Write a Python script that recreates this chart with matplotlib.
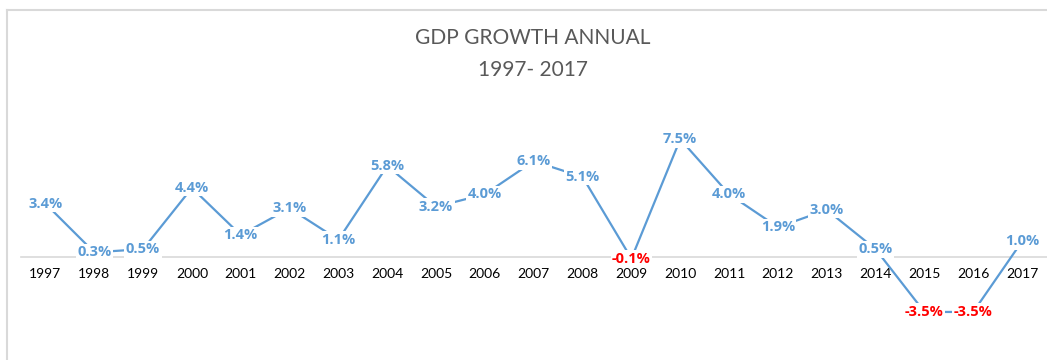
import matplotlib
matplotlib.use("Agg")
import matplotlib.pyplot as plt
from matplotlib.lines import Line2D

years = ["1997", "1998", "1999", "2000", "2001", "2002", "2003", "2004", "2005",
         "2006", "2007", "2008", "2009", "2010", "2011", "2012", "2013", "2014",
         "2015", "2016", "2017"]
growth = [3.4, 0.3, 0.5, 4.4, 1.4, 3.1, 1.1, 5.8, 3.2, 4.0, 6.1, 5.1, -0.1, 7.5,
          4.0, 1.9, 3.0, 0.5, -3.5, -3.5, 1.0]

title_lines = ["GDP GROWTH ANNUAL", "1997- 2017"]

LINE_BLUE = "#5B9BD5"
NEG_RED = "#FF0000"
TEXT_GRAY = "#595959"
GRID_GRAY = "#D9D9D9"

plt.rcParams["font.family"] = ["Lato", "DejaVu Sans"]

W, H = 1047, 360
fig = plt.figure(figsize=(W / 100, H / 100), dpi=100)

# outer chart frame (left and top edges)
fig.add_artist(Line2D([7 / W, 7 / W], [0, 1 - 10 / H], color=GRID_GRAY, lw=1.5,
                      transform=fig.transFigure))
fig.add_artist(Line2D([7 / W, 1], [1 - 10 / H, 1 - 10 / H], color=GRID_GRAY, lw=1.5,
                      transform=fig.transFigure))

fig.text(533 / W, 1 - 38 / H, title_lines[0], ha="center", va="center",
         fontsize=15, color=TEXT_GRAY)
fig.text(533 / W, 1 - 70 / H, title_lines[1], ha="center", va="center",
         fontsize=15, color=TEXT_GRAY)

ax = fig.add_axes([21 / W, (H - 335.5) / H, (1046.5 - 21) / W, (335.5 - 131.4) / H])
x = list(range(len(years)))
ax.plot(x, growth, color=LINE_BLUE, lw=1.6, zorder=2, solid_capstyle="butt")

for xi, v in zip(x, growth):
    ax.text(xi, v, f"{v:.1f}%", ha="center", va="center", fontsize=10.5,
            family=["Open Sans", "DejaVu Sans"], fontweight="bold",
            color=NEG_RED if v < 0 else LINE_BLUE, zorder=3,
            bbox=dict(boxstyle="square,pad=0.1", fc="white", ec="none"))

ax.set_xlim(-0.5, len(years) - 0.5)
ax.set_ylim(-5, 8)
ax.set_xticks(x)
ax.set_xticklabels(years, fontsize=8, color=TEXT_GRAY)
ax.set_yticks([])
for side in ("top", "right", "left"):
    ax.spines[side].set_visible(False)
ax.spines["bottom"].set_position(("data", 0))
ax.spines["bottom"].set_color(GRID_GRAY)
ax.spines["bottom"].set_linewidth(1.2)
ax.spines["bottom"].set_zorder(1)
ax.tick_params(axis="x", length=0, pad=8)
ax.patch.set_alpha(0)

fig.savefig("out.png", dpi=100, facecolor="white")
